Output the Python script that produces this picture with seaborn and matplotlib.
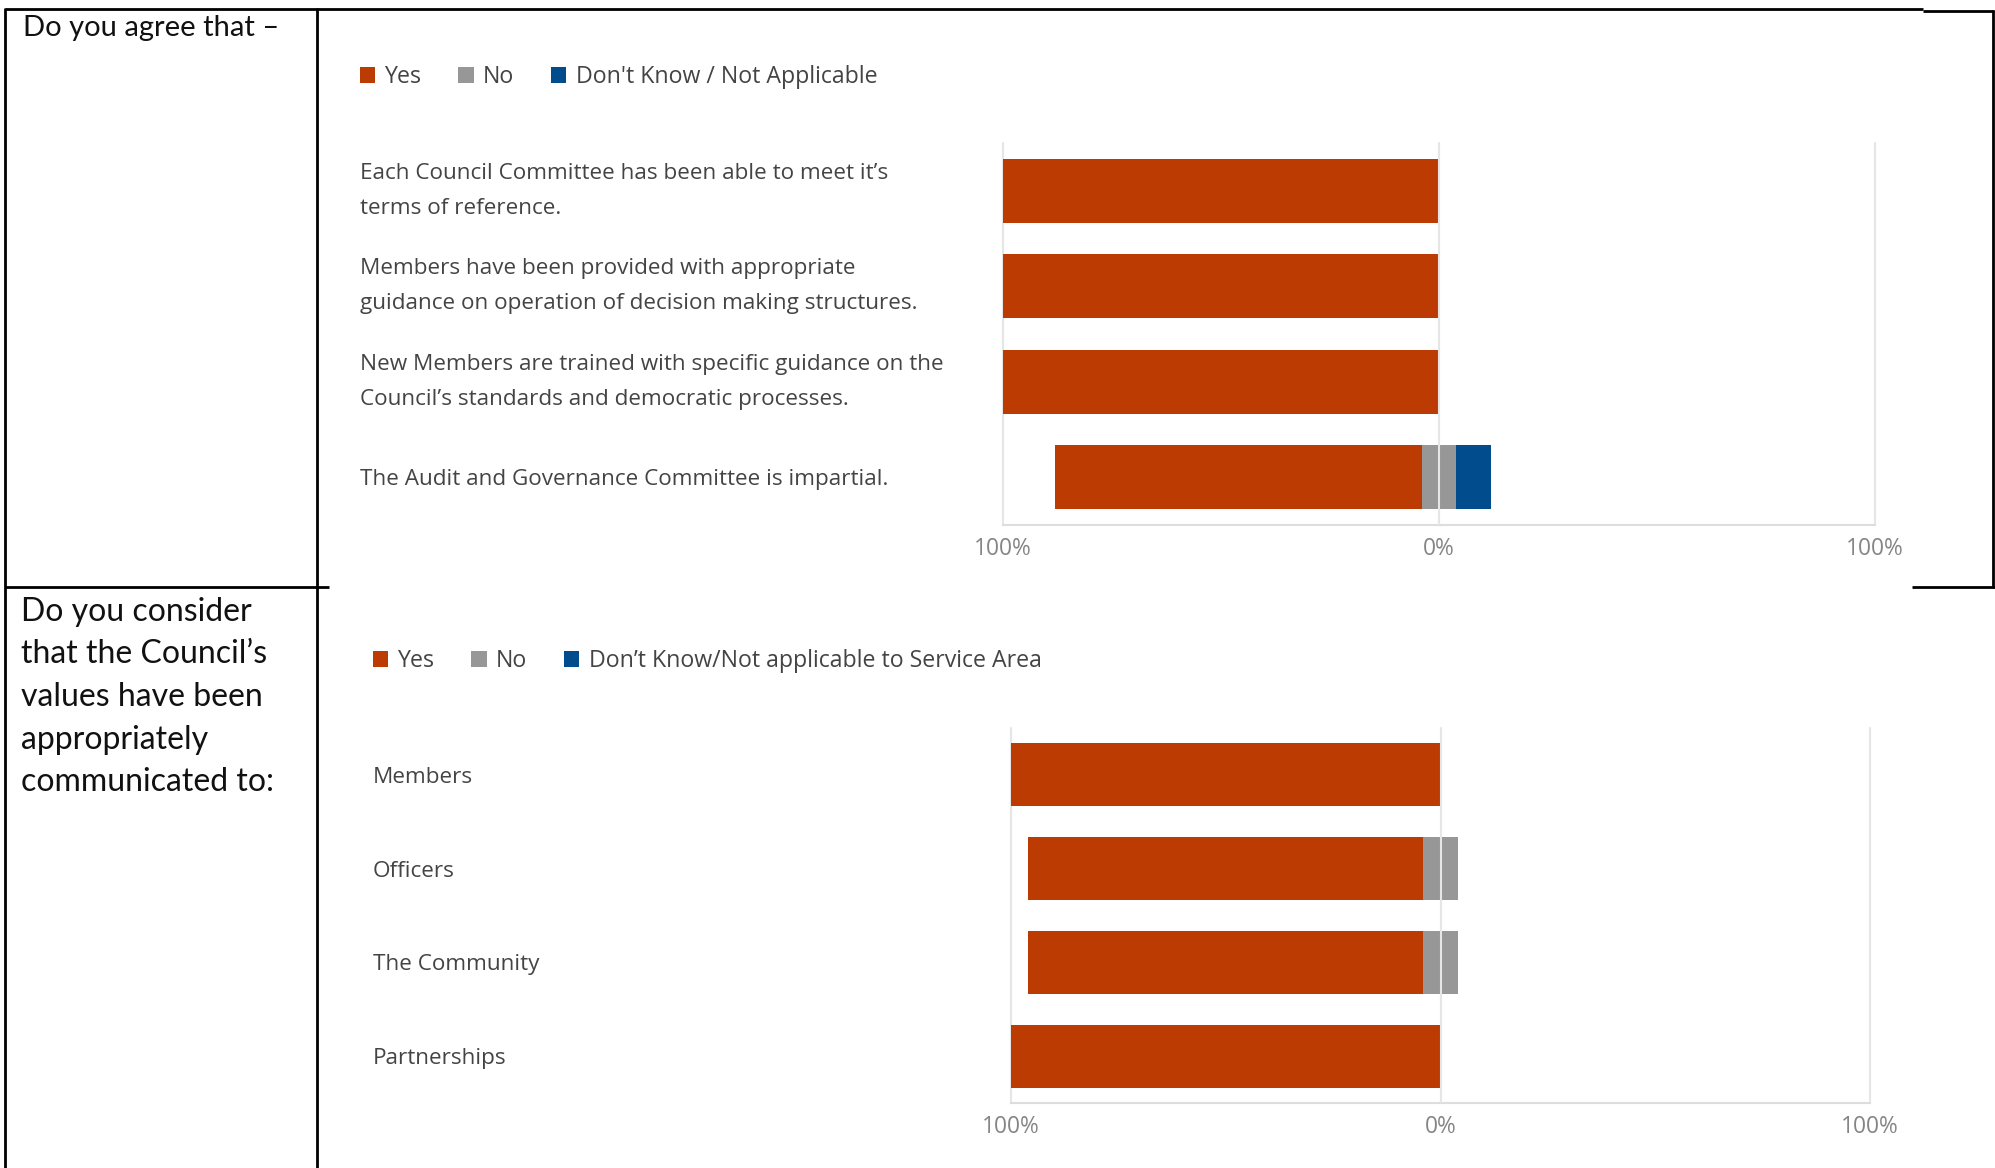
import numpy as np
import matplotlib
matplotlib.use("Agg")
import matplotlib.pyplot as plt
from matplotlib.patches import Patch
import seaborn as sns

# ---- survey results (percent of respondents) ----
q1_title = "Do you agree that –"
q1_items = [
    "Each Council Committee has been able to meet it’s\nterms of reference.",
    "Members have been provided with appropriate\nguidance on operation of decision making structures.",
    "New Members are trained with specific guidance on the\nCouncil’s standards and democratic processes.",
    "The Audit and Governance Committee is impartial.",
]
q1_yes = [100, 100, 100, 84]
q1_no = [0, 0, 0, 8]
q1_dk = [0, 0, 0, 8]
q1_legend = ["Yes", "No", "Don't Know / Not Applicable"]

q2_title = "Do you consider\nthat the Council’s\nvalues have been\nappropriately\ncommunicated to:"
q2_items = ["Members", "Officers", "The Community", "Partnerships"]
q2_yes = [100, 92, 92, 100]
q2_no = [0, 8, 8, 0]
q2_dk = [0, 0, 0, 0]
q2_legend = ["Yes", "No", "Don’t Know/Not applicable to Service Area"]

tick_values = [-100, 0, 100]
tick_labels = ["100%", "0%", "100%"]

RED = "#BB3B02"
GREY = "#979797"
BLUE = "#004C8C"
GRID = "#e6e6e6"
LABEL_C = "#444444"
TICK_C = "#858585"
FONT = ["Open Sans", "DejaVu Sans"]

sns.set_style("white")
plt.rcParams["font.family"] = FONT

W, H = 1995, 1168
fig = plt.figure(figsize=(W / 100, H / 100), dpi=100)
fig.patch.set_facecolor("white")

# full-figure layer in pixel units for the table frame and question text
bg = fig.add_axes([0, 0, 1, 1], zorder=0)
bg.set_xlim(0, W)
bg.set_ylim(H, 0)
bg.axis("off")

frame_kw = dict(color="black", lw=2.0, solid_capstyle="butt")
bg.plot([5, 1923], [9, 9], **frame_kw)
bg.plot([1923, 1994], [11, 11], **frame_kw)
bg.plot([5, 5], [8, H], **frame_kw)
bg.plot([317, 317], [8, H], **frame_kw)
bg.plot([1993, 1993], [10, 588], **frame_kw)
bg.plot([5, 329], [587, 587], **frame_kw)
bg.plot([1912, W], [587, 587], **frame_kw)

bg.text(23, 28, q1_title, family=["Lato", "DejaVu Sans"], fontsize=21,
        color="#111111", va="center", ha="left")
bg.text(21, 697, q2_title, family=["Lato", "DejaVu Sans"], fontsize=23,
        color="#111111", va="center", ha="left", linespacing=1.53)


def axes_at(x0, x1, y0, y1):
    return fig.add_axes([x0 / W, 1 - y1 / H, (x1 - x0) / W, (y1 - y0) / H], zorder=2)


def draw_diverging(ax, items, yes, no, dk, legend_labels, label_x, legend_xy):
    yes = np.asarray(yes, float)
    no = np.asarray(no, float)
    dk = np.asarray(dk, float)
    half = no / 2.0
    kw = dict(y=items, orient="h", saturation=1, width=0.67, errorbar=None,
              linewidth=0, ax=ax)
    # Yes extends left of the neutral band, Don't Know to the right
    sns.barplot(x=-(half + yes), color=RED, **kw)
    sns.barplot(x=half + dk, color=BLUE, **kw)
    sns.barplot(x=-half, color=GREY, **kw)
    sns.barplot(x=half, color=GREY, **kw)

    ax.set_xlim(-100, 100)
    ax.set_ylim(len(items) - 0.5, -0.5)
    ax.set_xlabel("")
    ax.set_ylabel("")
    ax.set_xticks(tick_values)
    ax.set_xticklabels(tick_labels)
    ax.set_axisbelow(True)
    ax.grid(axis="x", color=GRID, lw=1.5)
    ax.grid(axis="y", visible=False)
    for gl in ax.xaxis.get_gridlines():
        gl.set_clip_on(False)
    ax.axvline(0, color=GRID, lw=1.5, zorder=5)
    for side in ("top", "left", "right"):
        ax.spines[side].set_visible(False)
    ax.spines["bottom"].set_color("#dddddd")
    ax.spines["bottom"].set_linewidth(1.5)

    # left-aligned category labels in the chart's own text column
    bbox = ax.get_position()
    pad_pt = (bbox.x0 * W - label_x) * 0.72
    ax.tick_params(axis="y", length=0, pad=pad_pt, labelsize=16.2, labelcolor=LABEL_C)
    ax.tick_params(axis="x", length=0, pad=8.5, labelsize=16.4, labelcolor=TICK_C)
    for lab in ax.get_yticklabels():
        lab.set_ha("left")
        lab.set_va("center" if "\n" in lab.get_text() else "center_baseline")
        lab.set_linespacing(1.85)

    handles = [Patch(facecolor=c, edgecolor="none") for c in (RED, GREY, BLUE)]
    ax.legend(handles, legend_labels, loc="center left",
              bbox_to_anchor=(legend_xy[0] / W, 1 - legend_xy[1] / H),
              bbox_transform=fig.transFigure, ncol=3, frameon=False,
              borderpad=0, borderaxespad=0, handlelength=0.65, handleheight=0.65,
              handletextpad=0.4, columnspacing=1.6,
              prop={"family": FONT, "size": 16.7},
              labelcolor="#444444")


ax1 = axes_at(1003, 1875, 143, 525)
draw_diverging(ax1, q1_items, q1_yes, q1_no, q1_dk, q1_legend, 360, (360, 77))

ax2 = axes_at(1011, 1870, 728, 1103)
draw_diverging(ax2, q2_items, q2_yes, q2_no, q2_dk, q2_legend, 373, (373, 661))

fig.savefig("out.png", dpi=100, facecolor="white")
